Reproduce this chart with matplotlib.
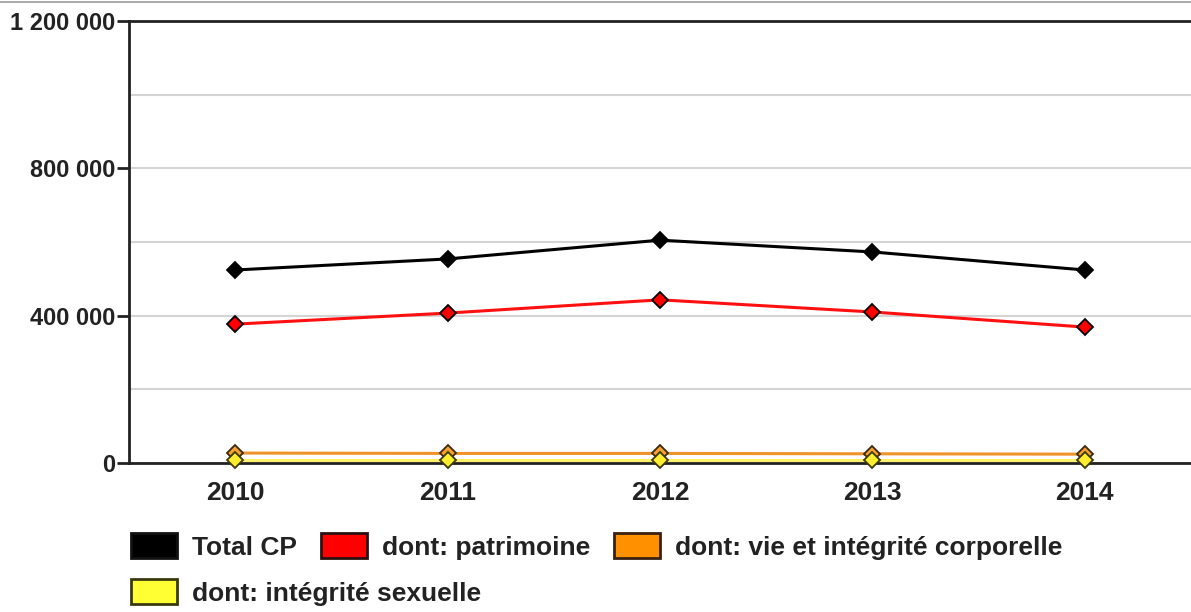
import matplotlib
matplotlib.use("Agg")
import matplotlib.pyplot as plt
from matplotlib.patches import Patch
from matplotlib.lines import Line2D
from matplotlib.ticker import FuncFormatter

# donnees
annees = [2010, 2011, 2012, 2013, 2014]
total_cp = [524000, 554000, 605000, 573000, 524000]
patrimoine = [377000, 407000, 443000, 410000, 369000]
vie_integrite = [27000, 26000, 26000, 25000, 24000]
integrite_sexuelle = [7000, 7000, 7000, 7000, 7000]
noms = ["Total CP", "dont: patrimoine", "dont: vie et intégrité corporelle", "dont: intégrité sexuelle"]

plt.rcParams['font.family'] = ['Liberation Sans', 'DejaVu Sans']
plt.rcParams['font.weight'] = 'bold'

fig = plt.figure(figsize=(11.91, 6.12), dpi=100)
ax = fig.add_axes([129/1191, 1 - 463/612, 1 - 129/1191, (463 - 21)/612])

txt = '#222222'
series = [
    (total_cp, '#000000', '#000000', '#000000'),
    (patrimoine, '#ff1010', '#ff0000', '#000000'),
    (vie_integrite, '#f0922a', '#f7a030', '#3a2a10'),
    (integrite_sexuelle, '#fff06a', '#ffee30', '#3a3a10'),
]
for vals, lc, fc, ec in series:
    ax.plot(annees, vals, color=lc, lw=2.2, marker='D', ms=8,
            mfc=fc, mec=ec, mew=1.3, zorder=3, clip_on=False)

ax.set_xlim(2009.5, 2014.5)
ax.set_ylim(0, 1200000)
ax.set_yticks(range(0, 1200001, 400000))
ax.set_yticks(range(0, 1200001, 200000), minor=True)
ax.yaxis.set_major_formatter(FuncFormatter(lambda v, p: f"{int(v):,}".replace(",", " ")))
ax.set_xticks(annees)
ax.grid(axis='y', which='both', color='#d4d4d4', lw=1.5, zorder=0)
ax.tick_params(axis='y', which='major', length=9, width=2, color='#222222',
               labelsize=17, labelcolor=txt, pad=1)
ax.tick_params(axis='y', which='minor', length=0)
ax.tick_params(axis='x', length=0, labelsize=19, labelcolor=txt, pad=13)
for s in ['left', 'bottom', 'top']:
    ax.spines[s].set_linewidth(2)
    ax.spines[s].set_color('#222222')
ax.spines['right'].set_visible(False)

# fine ligne grise tout en haut
fig.add_artist(Line2D([0, 1], [1 - 1.5/612, 1 - 1.5/612], color='#9a9a9a', lw=1.2))

couleurs = ['#000000', '#ff0000', '#ff9100', '#ffff33']
bords = ['#111111', '#2a1010', '#3a2010', '#3a3a10']
handles = [Patch(facecolor=c, edgecolor=b, lw=2) for c, b in zip(couleurs, bords)]

kw = dict(frameon=False, fontsize=19, handlelength=1.74, handleheight=1.1,
          handletextpad=0.57, columnspacing=0.9, borderpad=0, borderaxespad=0,
          labelcolor=txt, loc='upper left')
leg1 = fig.legend(handles[:3], noms[:3], ncol=3, bbox_to_anchor=(131/1191, 1 - 533/612), **kw)
leg2 = fig.legend(handles[3:], noms[3:], ncol=1, bbox_to_anchor=(131/1191, 1 - 579/612), **kw)

fig.savefig("out.png", dpi=100)
